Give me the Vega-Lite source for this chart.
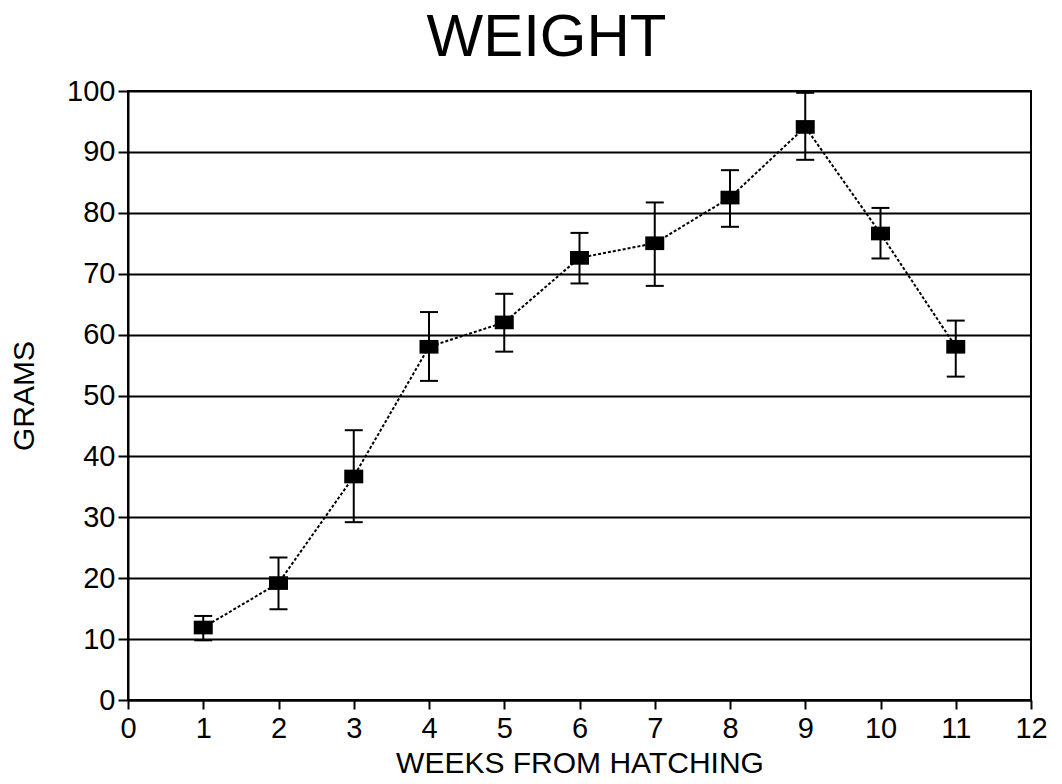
{
  "$schema": "https://vega.github.io/schema/vega-lite/v6.json",
  "autosize": "none",
  "width": 903,
  "height": 609,
  "padding": {"left": 128, "top": 91, "right": 31, "bottom": 84},
  "background": "white",
  "title": {
    "text": "WEIGHT",
    "fontSize": 60,
    "font": "Liberation Sans",
    "fontWeight": "normal",
    "color": "black",
    "anchor": "middle",
    "baseline": "alphabetic",
    "dx": -33,
    "dy": 57,
    "offset": 18
  },
  "config": {
    "font": "Liberation Sans",
    "view": {"stroke": "black", "strokeWidth": 2},
    "axis": {
      "labelFont": "Liberation Sans",
      "titleFont": "Liberation Sans",
      "labelFontSize": 29,
      "titleFontSize": 30,
      "labelColor": "black",
      "titleColor": "black",
      "titleFontWeight": "normal",
      "domainColor": "black",
      "domainWidth": 2,
      "tickColor": "black",
      "tickWidth": 2
    }
  },
  "data": {
    "values": [
      {"week": 1, "grams": 11.9, "low": 9.8, "high": 13.8},
      {"week": 2, "grams": 19.2, "low": 14.9, "high": 23.4},
      {"week": 3, "grams": 36.7, "low": 29.2, "high": 44.3},
      {"week": 4, "grams": 58.0, "low": 52.4, "high": 63.7},
      {"week": 5, "grams": 62.0, "low": 57.2, "high": 66.7},
      {"week": 6, "grams": 72.6, "low": 68.4, "high": 76.7},
      {"week": 7, "grams": 75.0, "low": 68.0, "high": 81.7},
      {"week": 8, "grams": 82.5, "low": 77.7, "high": 87.0},
      {"week": 9, "grams": 94.1, "low": 88.7, "high": 99.7},
      {"week": 10, "grams": 76.6, "low": 72.5, "high": 80.8},
      {"week": 11, "grams": 58.0, "low": 53.1, "high": 62.3}
    ]
  },
  "encoding": {
    "x": {
      "field": "week",
      "type": "quantitative",
      "scale": {"domain": [0, 12], "nice": false},
      "axis": {
        "title": "WEEKS FROM HATCHING",
        "values": [0, 1, 2, 3, 4, 5, 6, 7, 8, 9, 10, 11, 12],
        "grid": false,
        "tickSize": 9,
        "labelPadding": 5,
        "titleY": 72,
        "titleBaseline": "alphabetic",
        "labelFlush": false
      }
    }
  },
  "layer": [
    {
      "mark": {"type": "line", "color": "black", "strokeWidth": 2, "strokeDash": [3, 2]},
      "encoding": {
        "y": {
          "field": "grams",
          "type": "quantitative",
          "scale": {"domain": [0, 100], "nice": false},
          "axis": {
            "title": "GRAMS",
            "values": [0, 10, 20, 30, 40, 50, 60, 70, 80, 90, 100],
            "grid": true,
            "gridColor": "black",
            "gridWidth": 2,
            "gridOpacity": 1,
            "tickSize": 10,
            "labelPadding": 3,
            "titleX": -95,
            "titleBaseline": "alphabetic",
            "labelFlush": false
          }
        }
      }
    },
    {
      "mark": {"type": "rule", "color": "black", "strokeWidth": 2},
      "encoding": {
        "y": {"field": "low", "type": "quantitative"},
        "y2": {"field": "high"}
      }
    },
    {
      "mark": {"type": "tick", "orient": "horizontal", "color": "black", "size": 18, "thickness": 2, "opacity": 1},
      "encoding": {"y": {"field": "low", "type": "quantitative"}}
    },
    {
      "mark": {"type": "tick", "orient": "horizontal", "color": "black", "size": 18, "thickness": 2, "opacity": 1},
      "encoding": {"y": {"field": "high", "type": "quantitative"}}
    },
    {
      "mark": {"type": "point", "shape": "M-1,-0.72L1,-0.72L1,0.72L-1,0.72Z", "size": 361, "filled": true, "color": "black", "opacity": 1},
      "encoding": {"y": {"field": "grams", "type": "quantitative"}}
    }
  ]
}
